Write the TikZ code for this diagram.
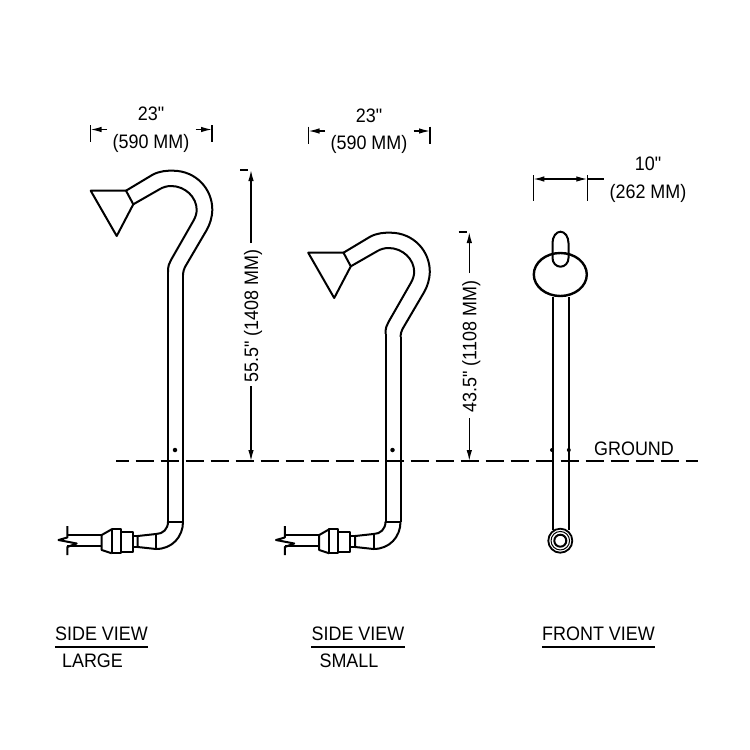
\documentclass[tikz,border=0pt]{standalone}
\usepackage{fontspec}
\newfontfamily\labfont[FakeStretch=0.92]{Liberation Sans}
\usetikzlibrary{arrows.meta,shapes.geometric}
\tikzset{
	pipe/.style = {line width=2pt, line join=round},
	dim/.style = {line width=1.3pt, -{Latex[length=11pt,width=5.5pt]}},
	tick/.style = {line width=1.5pt},
	lab/.style = {font=\labfont\fontsize{19.5}{19.5}\selectfont, inner sep=0pt, text depth=0pt},
	point/.style = {circle, fill=black, inner sep=0pt, minimum size=4.5pt}
}
\begin{document}
\begin{tikzpicture}[x=1pt,y=-1pt]
	\useasboundingbox (0,0) rectangle (750,750);

	% side views
	\foreach \dx/\dy/\nm in {0/0/L, 217.5/62/S} {
		\begin{scope}[shift={(\dx,\dy)}]
			\draw[pipe] (126,190.7) -- (90.7,190.7) -- (116.7,236) -- (133.3,204.3) -- cycle;
			\draw[pipe] (126,190.7) -- (153,174.5) .. controls (160,171) and (167,170.5) .. (173.5,170.7)
				.. controls (196,171) and (212.5,189) .. (212.3,210)
				.. controls (212,218) and (210,224) .. (206.7,230) -- (185,267)
				.. controls (184,269) and (183.3,271) .. (183,275) coordinate (\nm out);
			\draw[pipe] (133.3,204.3) -- (160,189) .. controls (163,187.2) and (167,186) .. (171,186)
				.. controls (185,186) and (196.7,197) .. (196.7,210)
				.. controls (196.7,214) and (195,218) .. (193.3,221) -- (171,260)
				.. controls (169,263.5) and (168,266) .. (168,272) coordinate (\nm in);
		\end{scope}
		\begin{scope}[shift={(\dx,0)}]
			\coordinate (\nm outb) at (183,521.7);
			\coordinate (\nm inb) at (168,521.7);
			\draw[pipe] (\nm out) -- (\nm outb);
			\draw[pipe] (\nm in) -- (\nm inb);
			\draw[pipe] (\nm inb) -- (\nm outb);
			\node (\nm dot) at (175,450) [point] {};
			% elbow and coupling
			\draw[pipe] (\nm inb) .. controls (168,529) and (163,534) .. (156,534) -- (137.7,536) -- (137.7,547) -- (156,549)
				.. controls (172,549) and (183,537) .. (\nm outb);
			\draw[pipe] (156,534) -- (156,549);
			\draw[pipe] (137.7,536) -- (132.7,536) (137.7,547) -- (132.7,547);
			\draw[pipe] (132.7,531.7) rectangle (120.7,551.7);
			\draw[pipe] (120.7,529.3) rectangle (111.7,553.3);
			\draw[pipe] (111.7,529.3) -- (101.7,535) -- (101.7,550) -- (111.7,553.3);
			\draw[pipe] (101.7,535) -- (67.3,535) (101.7,546) -- (67.3,546);
			\draw[pipe] (67.3,526) -- (67.3,537.5) -- (58.5,540) -- (76.7,543.5) -- (67.3,547) -- (67.3,555);
		\end{scope}
	}

	% front view
	\draw[pipe] (552.5,258) -- (552.5,243) arc[start angle=180, end angle=360, x radius=8, y radius=11.3] -- (568.5,258)
		arc[start angle=0, end angle=180, x radius=8, y radius=8.7];
	\node (head) at (560.3,274.5) [ellipse, draw, line width=2.4pt, minimum width=53pt, minimum height=43pt, inner sep=0pt] {};
	\node (base) at (560.3,540.7) [circle, draw, line width=1.8pt, minimum size=24pt, inner sep=0pt] {};
	\node (basemid) at (560.3,540.7) [circle, draw, line width=1pt, minimum size=18.5pt, inner sep=0pt] {};
	\node (basein) at (560.3,540.7) [circle, draw, line width=2pt, minimum size=12pt, inner sep=0pt] {};
	\draw[pipe] (552.5,297) -- (552.5,530);
	\draw[pipe] (568.5,297) -- (568.5,530);
	\node (fdotl) at (552,450) [point, minimum size=4pt] {};
	\node (fdotr) at (568.8,450) [point, minimum size=4pt] {};

	% ground line
	\coordinate (gl) at (116,461);
	\coordinate (gr) at (698,461);
	\draw[line width=1.4pt, dash pattern=on 18.3pt off 6.7pt, dash phase=5.3pt] (gl) -- (gr);
	\node (ground) at (634,449) [lab] {GROUND};

	% widths
	\foreach \dx/\dy/\nm in {0/0/L, 218/1.5/S} {
		\begin{scope}[shift={(\dx,\dy)}]
			\coordinate (\nm wa) at (90.5,129.5);
			\coordinate (\nm wb) at (212,129.5);
			\coordinate (\nm wc) at (107,129.5);
			\coordinate (\nm wd) at (195.5,129.5);
			\draw[tick] (90.5,125) -- (90.5,142);
			\draw[tick] (212,125) -- (212,142);
			\draw[dim] (\nm wc) -- (\nm wa);
			\draw[dim] (\nm wd) -- (\nm wb);
			\node (\nm wtop) at (151,114) [lab] {23"};
			\node (\nm wmm) at (151,141) [lab] {(590 MM)};
		\end{scope}
	}
	\coordinate (fa) at (533.3,179);
	\coordinate (fb) at (587.3,179);
	\coordinate (fc) at (604,179);
	\draw[tick] (533.3,175) -- (533.3,200.7);
	\draw[tick] (587.3,175) -- (587.3,200.7);
	\draw[dim, {Latex[length=11pt,width=5.5pt]}-{Latex[length=11pt,width=5.5pt]}] (fa) -- (fb);
	\draw[tick] (fb) -- (fc);
	\node (ften) at (648,164) [lab] {10"};
	\node (fmm) at (648,191) [lab] {(262 MM)};

	% heights
	\node (hL) at (251,316) [lab, rotate=90] {55.5" (1408 MM)};
	\node (hS) at (469.3,346.5) [lab, rotate=90] {43.5" (1108 MM)};
	\coordinate (hLt) at (251,170);
	\coordinate (hLb) at (251,461);
	\coordinate (hSt) at (469.3,232);
	\coordinate (hSb) at (469.3,461);
	\draw[dim] (251,243) -- (hLt);
	\draw[dim] (251,386) -- (hLb);
	\draw[dim] (469.3,273) -- (hSt);
	\draw[dim] (469.3,418) -- (hSb);
	\draw[tick] (240,170) -- (248,170);
	\draw[tick] (458.5,232) -- (466.5,232);

	% captions
	\node (capL) at (101.5,634) [lab] {SIDE VIEW};
	\node (capS) at (358,634) [lab] {SIDE VIEW};
	\node (capF) at (598.5,634) [lab] {FRONT VIEW};
	\draw[tick] (capL.south west) ++(0,6) coordinate (ua) -- (ua -| capL.south east);
	\draw[tick] (capS.south west) ++(0,6) coordinate (ub) -- (ub -| capS.south east);
	\draw[tick] (capF.south west) ++(0,6) coordinate (uc) -- (uc -| capF.south east);
	\node (large) at (92.5,661) [lab] {LARGE};
	\node (small) at (349,661) [lab] {SMALL};
\end{tikzpicture}
\end{document}
